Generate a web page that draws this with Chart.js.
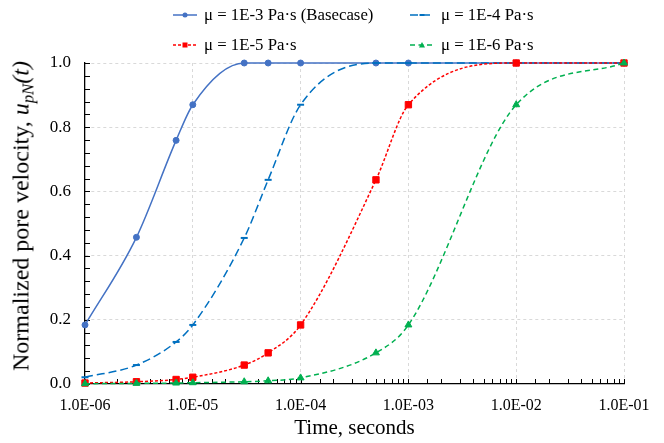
<!DOCTYPE html>
<html>
<head>
<meta charset="utf-8">
<script src="https://cdn.jsdelivr.net/npm/chart.js@4.4.1/dist/chart.umd.min.js"></script>
<style>
  html, body { margin: 0; padding: 0; background: #fff; }
  #wrap { position: relative; width: 664px; height: 443px; font-family: "Liberation Serif", "Times New Roman", serif; color: #000; }
  .item { position: absolute; height: 20px; display: flex; align-items: center; font-size: 16.8px; white-space: nowrap; }
  .item svg { margin-right: 7px; }
  #ytitle { position: absolute; left: 23px; top: 216px; transform: translate(-50%, -50%) rotate(-90deg); font-size: 24px; white-space: nowrap; }
  #ytitle sub { font-size: 0.7em; vertical-align: -0.3em; }
</style>
</head>
<body>
<div id="wrap">
  <canvas id="chart" width="664" height="443"></canvas>
  <div id="legend"></div>
  <div id="ytitle">Normalized pore velocity, <i>u</i><sub><i>pN</i></sub><i>(t)</i></div>
</div>
<script>
// time, seconds
const times = [1e-6, 3e-6, 7e-6, 1e-5, 3e-5, 5e-5, 1e-4, 5e-4, 1e-3, 1e-2, 1e-1];

// normalized pore velocity per viscosity
const mu1e3 = [0.184, 0.457, 0.759, 0.870, 1, 1, 1, 1, 1, 1, 1];
const mu1e4 = [0.021, 0.059, 0.131, 0.184, 0.455, 0.636, 0.870, 1, 1, 1, 1];
const mu1e5 = [0.003, 0.007, 0.014, 0.021, 0.059, 0.097, 0.184, 0.636, 0.870, 1, 1];
const mu1e6 = [0.001, 0.002, 0.003, 0.004, 0.007, 0.010, 0.019, 0.097, 0.184, 0.870, 1];

const seriesNames = ['μ = 1E-3 Pa·s (Basecase)', 'μ = 1E-4 Pa·s', 'μ = 1E-5 Pa·s', 'μ = 1E-6 Pa·s'];
const yTicks = [0, 0.2, 0.4, 0.6, 0.8, 1.0];

const FONT = '"Liberation Serif", "Times New Roman", serif';

const pts = vals => times.map((t, i) => ({ x: t, y: vals[i] }));
const isDecade = v => Math.abs(Math.log10(v) - Math.round(Math.log10(v))) < 1e-9;
const fmtExp = v => {
  const e = Math.round(Math.log10(v));
  return '1.0E' + (e < 0 ? '-' : '+') + String(Math.abs(e)).padStart(2, '0');
};

const common = { borderWidth: 1.5, cubicInterpolationMode: 'monotone', tension: 0.4, clip: false, pointBorderWidth: 1 };

const datasets = [
  { ...common, label: seriesNames[0], data: pts(mu1e3), borderColor: '#4472C4', backgroundColor: '#4472C4',
    pointStyle: 'circle', pointRadius: 3, order: 3 },
  { ...common, label: seriesNames[1], data: pts(mu1e4), borderColor: '#0070C0', backgroundColor: '#0070C0',
    borderDash: [8, 4], pointStyle: 'line', pointRadius: 3.5, pointBorderWidth: 2, order: 2 },
  { ...common, label: seriesNames[2], data: pts(mu1e5), borderColor: '#FF0000', backgroundColor: '#FF0000',
    borderDash: [3, 2], pointStyle: 'rect', pointRadius: 4.5, order: 1 },
  { ...common, label: seriesNames[3], data: pts(mu1e6), borderColor: '#00B050', backgroundColor: '#00B050',
    borderDash: [5, 3.5], pointStyle: 'triangle', pointRadius: 4, order: 0 }
];

// small tick marks pointing into the plot, like the original
const innerTicks = {
  id: 'innerTicks',
  beforeDatasetsDraw(chart) {
    const { ctx, chartArea: a, scales: { x, y } } = chart;
    ctx.save();
    ctx.strokeStyle = '#000';
    ctx.lineWidth = 1;
    ctx.beginPath();
    x.ticks.forEach(t => {
      const px = Math.round(x.getPixelForValue(t.value)) + 0.5;
      ctx.moveTo(px, a.bottom); ctx.lineTo(px, a.bottom - 5);
    });
    for (let i = 0; i <= 25; i++) {
      const py = Math.round(y.getPixelForValue(i * 0.04)) + 0.5;
      ctx.moveTo(a.left, py); ctx.lineTo(a.left + 5, py);
    }
    ctx.stroke();
    ctx.restore();
  }
};

new Chart(document.getElementById('chart'), {
  type: 'line',
  data: { datasets },
  plugins: [innerTicks],
  options: {
    responsive: false,
    animation: false,
    devicePixelRatio: 1,
    layout: { padding: { top: 63, right: 40, left: 0, bottom: 0 } },
    plugins: { legend: { display: false }, tooltip: { enabled: false } },
    scales: {
      x: {
        type: 'logarithmic', min: 1e-6, max: 1e-1,
        afterFit(s) { s.height = 59; },
        border: { color: '#000', width: 1.3, dash: [3, 3] },
        grid: { color: c => (isDecade(c.tick.value) && c.index > 0) ? '#d9d9d9' : 'transparent', drawTicks: false },
        ticks: { autoSkip: false, maxRotation: 0, padding: 12, color: '#000', font: { family: FONT, size: 16 },
                 callback: v => isDecade(v) ? fmtExp(v) : '' },
        title: { display: true, text: 'Time, seconds', color: '#000', font: { family: FONT, size: 21 }, padding: { top: 0, bottom: 2 } }
      },
      y: {
        min: 0, max: 1,
        afterFit(s) { s.width = 85; },
        afterBuildTicks(s) { s.ticks = yTicks.map(v => ({ value: v })); },
        border: { color: '#000', width: 1.3, dash: [3, 3] },
        grid: { color: c => c.tick.value > 0 ? '#d9d9d9' : 'transparent', drawTicks: false },
        ticks: { padding: 14, color: '#000', font: { family: FONT, size: 17 }, callback: v => v.toFixed(1) }
      }
    }
  }
});

// legend in two columns, as in the original
function sampleSvg(ds) {
  const c = ds.borderColor;
  const dash = ds.borderDash ? ds.borderDash.join(' ') : 'none';
  let mk;
  if (ds.pointStyle === 'circle') mk = `<circle cx="12" cy="5" r="2.5" fill="${c}"/>`;
  else if (ds.pointStyle === 'rect') mk = `<rect x="9.5" y="2.5" width="5" height="5" fill="${c}"/>`;
  else if (ds.pointStyle === 'triangle') mk = `<polygon points="12,2 15,7.5 9,7.5" fill="${c}"/>`;
  else mk = `<line x1="9.5" y1="5" x2="14.5" y2="5" stroke="${c}" stroke-width="2"/>`;
  return `<svg width="24" height="10"><line x1="0" y1="5" x2="24" y2="5" stroke="${c}" stroke-width="1.5" stroke-dasharray="${dash}"/>${mk}</svg>`;
}
const legendSpots = [[173, 5], [410, 5], [173, 35], [410, 35]];
const legend = document.getElementById('legend');
datasets.forEach((ds, i) => {
  const el = document.createElement('div');
  el.className = 'item';
  el.style.left = legendSpots[i][0] + 'px';
  el.style.top = legendSpots[i][1] + 'px';
  el.innerHTML = sampleSvg(ds) + '<span></span>';
  el.querySelector('span').textContent = ds.label;
  legend.appendChild(el);
});
</script>
</body>
</html>
